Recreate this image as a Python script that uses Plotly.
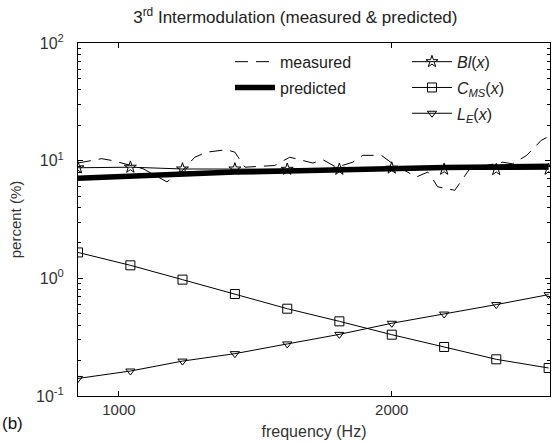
import plotly.graph_objects as go

# ---- data ----
freq_model = [850, 1042, 1233, 1425, 1617, 1808, 2000, 2192, 2383, 2575]
bl_x = [8.7, 8.8, 8.5, 8.5, 8.45, 8.45, 8.65, 8.45, 8.4, 8.45]
cms_x = [1.66, 1.29, 0.975, 0.736, 0.552, 0.431, 0.332, 0.261, 0.205, 0.173]
le_x = [0.141, 0.163, 0.198, 0.229, 0.277, 0.334, 0.415, 0.497, 0.598, 0.727]
predicted = [7.1, 7.4, 7.7, 8.0, 8.15, 8.4, 8.6, 8.75, 8.85, 8.95]

freq_meas = [850, 937, 978, 1040, 1088, 1176, 1234, 1278, 1321, 1395, 1425, 1462,
             1571, 1626, 1711, 1747, 1797, 1857, 1894, 1962, 2004, 2090, 2132,
             2150, 2168, 2231, 2260, 2286, 2407, 2443, 2495, 2548, 2586]
measured = [9.55, 10.4, 10.0, 9.1, 8.55, 6.6, 8.3, 10.7, 11.8, 12.4, 11.8, 8.8,
            9.1, 10.7, 9.55, 10.2, 8.8, 9.7, 11.1, 11.1, 9.4, 7.26, 8.0,
            7.0, 6.0, 5.6, 7.0, 8.55, 9.7, 9.4, 11.1, 14.9, 16.5]

ytickvals = [0.1, 1, 10, 100]
yticktext = ["10<sup>-1</sup>", "10<sup>0</sup>", "10<sup>1</sup>", "10<sup>2</sup>"]
yminorvals = [0.2, 0.3, 0.4, 0.5, 0.6, 0.7, 0.8, 0.9,
              2, 3, 4, 5, 6, 7, 8, 9,
              20, 30, 40, 50, 60, 70, 80, 90]
xtickvals = [1000, 2000]
xticktext = ["1000", "2000"]

FONT = "Liberation Sans, Arial, sans-serif"

fig = go.Figure()

fig.add_trace(go.Scatter(
    x=freq_meas, y=measured, mode="lines", name="measured",
    line=dict(color="black", width=1, dash="13px,8px"),
    legend="legend", legendgroup="a"))
fig.add_trace(go.Scatter(
    x=freq_model, y=predicted, mode="lines", name="predicted",
    line=dict(color="black", width=5.5),
    legend="legend", legendgroup="b"))
fig.add_trace(go.Scatter(
    x=freq_model, y=bl_x, mode="lines+markers", name="<i>Bl</i>(<i>x</i>)",
    line=dict(color="black", width=1),
    marker=dict(symbol="star-open", size=9, color="black", line=dict(width=1)),
    legend="legend2", legendgroup="c"))
fig.add_trace(go.Scatter(
    x=freq_model, y=cms_x, mode="lines+markers", name="<i>C<sub>MS</sub></i>(<i>x</i>)",
    line=dict(color="black", width=1),
    marker=dict(symbol="square-open", size=9, color="black", line=dict(width=1)),
    legend="legend2", legendgroup="d"))
fig.add_trace(go.Scatter(
    x=freq_model, y=le_x, mode="lines+markers", name="<i>L<sub>E</sub></i>(<i>x</i>)",
    line=dict(color="black", width=1),
    marker=dict(symbol="triangle-down-open", size=8, color="black", line=dict(width=1)),
    legend="legend2", legendgroup="e"))

fig.update_layout(
    width=552, height=444,
    margin=dict(l=78, r=2, t=43, b=48),
    paper_bgcolor="white", plot_bgcolor="white",
    font=dict(family=FONT, size=15, color="#222"),
    title=dict(text="3<sup>rd</sup> Intermodulation (measured &amp; predicted)",
               x=0.535, xanchor="center", y=0.962, yanchor="middle",
               font=dict(size=17, color="#222")),
    xaxis=dict(range=[850, 2580], tickvals=xtickvals, ticktext=xticktext,
               ticks="inside", ticklen=5, tickcolor="black",
               showline=True, linecolor="black", linewidth=1, mirror="ticks",
               showgrid=False, zeroline=False,
               tickfont=dict(size=15, color="#333"),
               title=dict(text="frequency (Hz)", font=dict(size=16, color="#333"), standoff=8)),
    yaxis=dict(type="log", range=[-1, 2], tickvals=ytickvals, ticktext=yticktext,
               ticks="inside", ticklen=5, tickcolor="black",
               minor=dict(tickmode="array", tickvals=yminorvals, ticks="inside",
                          ticklen=3, tickcolor="black", showgrid=False),
               showline=True, linecolor="black", linewidth=1, mirror="ticks",
               showgrid=False, zeroline=False, ticklabelstandoff=10,
               tickfont=dict(size=16, color="#333"),
               title=dict(text="percent (%)", font=dict(size=15, color="#333"), standoff=10)),
    showlegend=True,
    legend=dict(x=0.322, y=0.995, xanchor="left", yanchor="top",
                bgcolor="rgba(0,0,0,0)", traceorder="grouped", tracegroupgap=2,
                font=dict(size=16, color="#222"), itemwidth=40),
    legend2=dict(x=0.697, y=0.995, xanchor="left", yanchor="top",
                 bgcolor="rgba(0,0,0,0)", traceorder="grouped", tracegroupgap=2,
                 font=dict(size=16, color="#222"), itemwidth=40),
)

fig.add_annotation(text="(b)", xref="paper", yref="paper", x=-0.165, y=-0.077,
                   xanchor="left", yanchor="middle", showarrow=False,
                   font=dict(size=17, color="#111"))

fig.write_html("out.html")
